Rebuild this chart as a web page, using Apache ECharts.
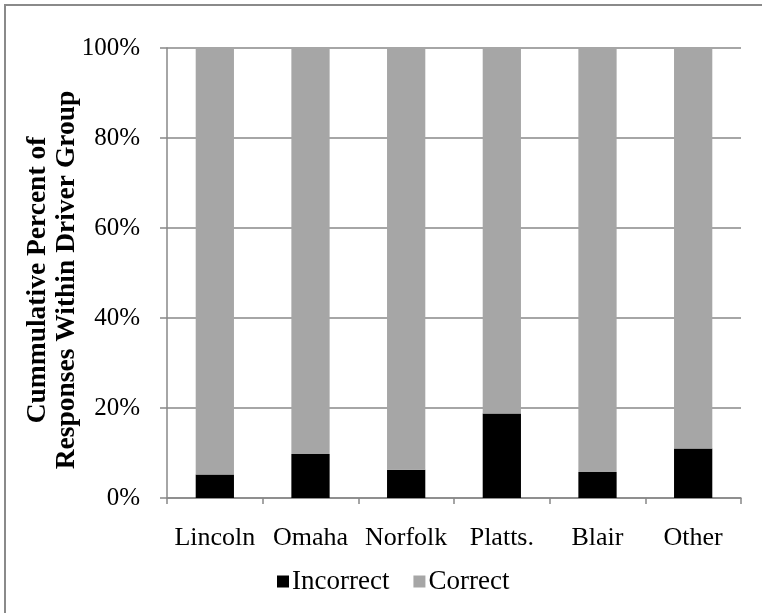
<!DOCTYPE html>
<html>
<head>
<meta charset="utf-8">
<script src="https://cdn.jsdelivr.net/npm/echarts@6/dist/echarts.min.js"></script>
<style>
html,body{margin:0;padding:0;background:#fff;}
#chart{width:762px;height:613px;}
</style>
</head>
<body>
<div id="chart"></div>
<script>
var categories = ['Lincoln', 'Omaha', 'Norfolk', 'Platts.', 'Blair', 'Other'];
var incorrect = [5.2, 9.8, 6.3, 18.8, 5.8, 11.0];
var correct = [94.8, 90.2, 93.7, 81.2, 94.2, 89.0];
var yTicks = [0, 20, 40, 60, 80, 100];
var seriesNames = ['Incorrect', 'Correct'];
var yTitle = 'Cummulative Percent of\nResponses Within Driver Group';

var FONT = 'Liberation Serif';
var chart = echarts.init(document.getElementById('chart'));
chart.setOption({
  animation: false,
  backgroundColor: '#fff',
  graphic: [
    { type: 'rect', shape: { x: 5, y: 5, width: 800, height: 700 }, style: { fill: 'none', stroke: '#8a8a8a', lineWidth: 2 } },
    { type: 'text', x: 52, y: 280, rotation: Math.PI / 2,
      style: { text: yTitle, font: 'bold 27.5px "Liberation Serif"', fill: '#000', align: 'center', verticalAlign: 'middle', lineHeight: 29 } }
  ],
  grid: { left: 167, right: 21, top: 48, bottom: 115 },
  legend: {
    data: seriesNames,
    left: 272, top: 563,
    itemWidth: 12, itemHeight: 12, itemGap: 24,
    icon: 'rect',
    textStyle: { fontFamily: FONT, fontSize: 27, color: '#000', padding: [0, 0, 0, -2] }
  },
  xAxis: {
    type: 'category',
    data: categories,
    axisLine: { show: true, lineStyle: { color: '#888', width: 1.5 } },
    axisTick: { show: true, length: 6, lineStyle: { color: '#888', width: 1.5 } },
    axisLabel: { interval: 0, fontFamily: FONT, fontSize: 26, color: '#000', margin: 27 }
  },
  yAxis: {
    type: 'value',
    min: yTicks[0], max: yTicks[yTicks.length - 1], interval: 20,
    axisLine: { show: true, lineStyle: { color: '#888', width: 1.5 } },
    axisTick: { show: true, length: 7, lineStyle: { color: '#888', width: 1.5 } },
    splitLine: { show: true, lineStyle: { color: '#888', width: 1.5 } },
    axisLabel: { fontFamily: FONT, fontSize: 25, color: '#000', margin: 27, formatter: '{value}%' }
  },
  series: [
    { name: seriesNames[0], type: 'bar', stack: 'a', data: incorrect, barWidth: '40%', itemStyle: { color: '#000' } },
    { name: seriesNames[1], type: 'bar', stack: 'a', data: correct, barWidth: '40%', itemStyle: { color: '#a6a6a6' } }
  ]
});
</script>
</body>
</html>
